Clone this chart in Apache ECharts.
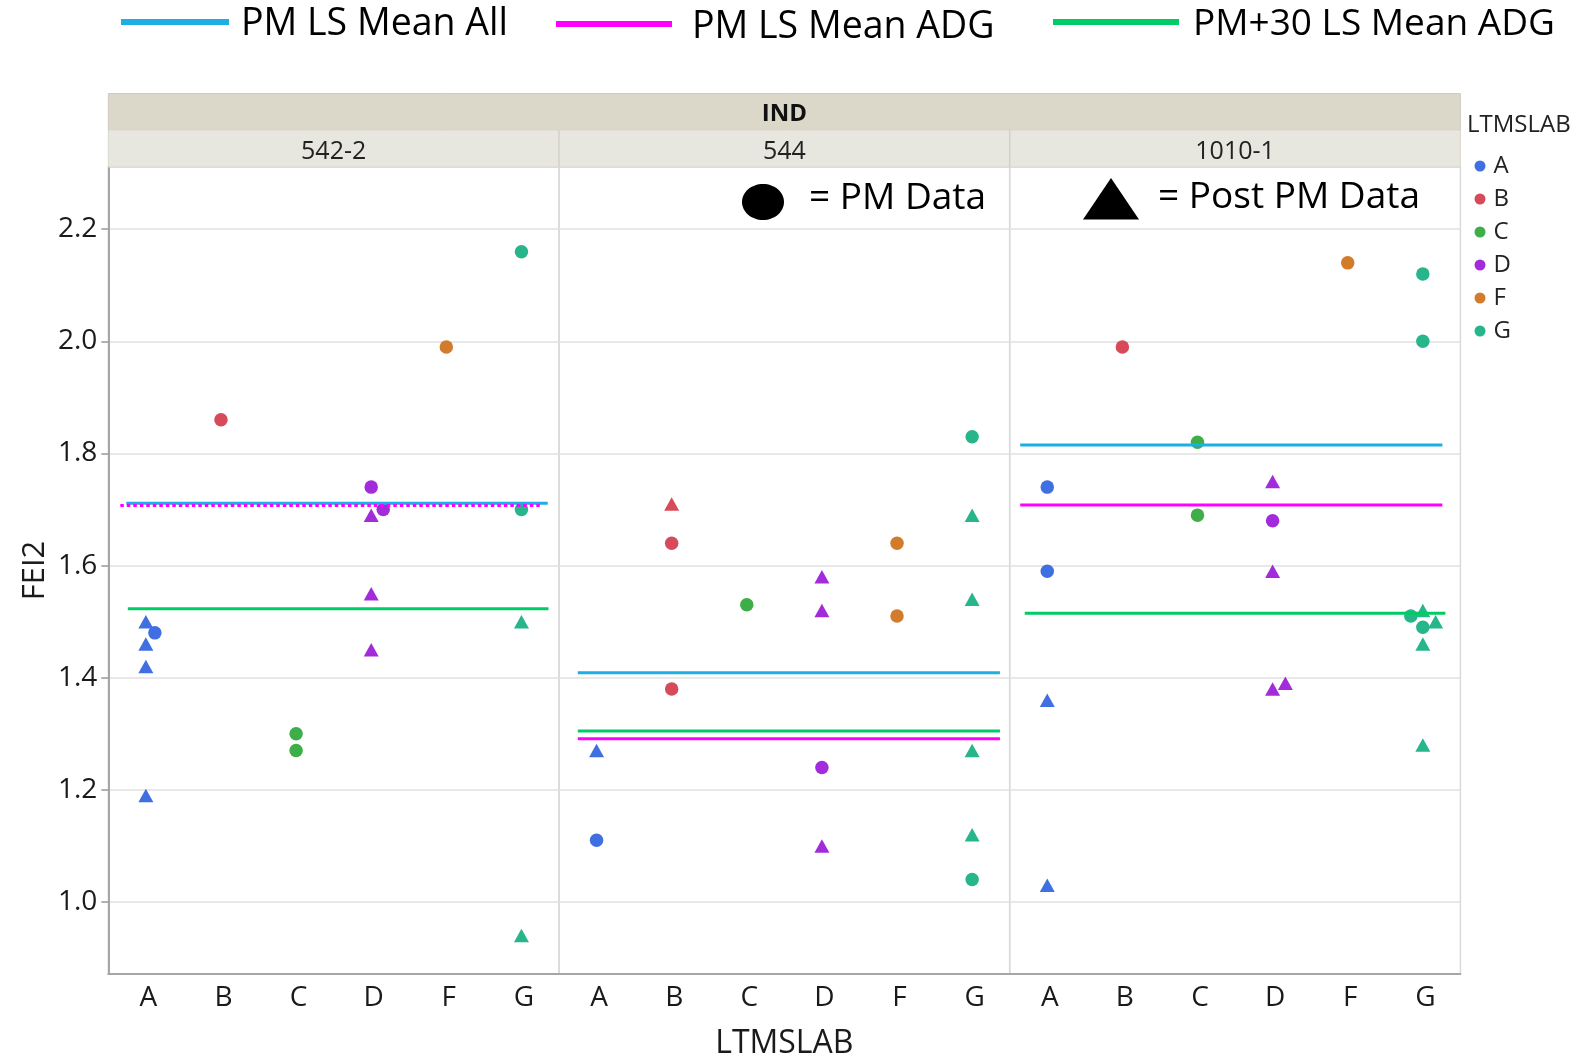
<!DOCTYPE html>
<html>
<head>
<meta charset="utf-8">
<script src="https://cdn.jsdelivr.net/npm/echarts@6/dist/echarts.min.js"></script>
<style>
  html, body { margin: 0; padding: 0; background: #fff; }
  #chart { width: 1578px; height: 1056px; }
</style>
</head>
<body>
<div id="chart"></div>
<script>
// ---------------- data ----------------
const labs = ['A', 'B', 'C', 'D', 'F', 'G'];
const panels = ['542-2', '544', '1010-1'];
const yTicks = [1.0, 1.2, 1.4, 1.6, 1.8, 2.0, 2.2];
const labColors = ['#3F6FE0', '#D64A5A', '#3DAE48', '#A22CDB', '#D27B2A', '#27B58C'];

// points: [LTMSLAB, FEI2, horizontal jitter (in category units)]
const pm_542_2 = [['A', 1.48, 0.12], ['B', 1.86, 0], ['C', 1.30, 0], ['C', 1.27, 0], ['D', 1.74, 0], ['D', 1.70, 0.16], ['F', 1.99, 0], ['G', 2.16, 0], ['G', 1.70, 0]];
const post_542_2 = [['A', 1.50, 0], ['A', 1.46, 0], ['A', 1.42, 0], ['A', 1.19, 0], ['D', 1.69, 0], ['D', 1.55, 0], ['D', 1.45, 0], ['G', 1.50, 0], ['G', 0.94, 0]];

const pm_544 = [['A', 1.11, 0], ['B', 1.64, 0], ['B', 1.38, 0], ['C', 1.53, 0], ['D', 1.24, 0], ['F', 1.64, 0], ['F', 1.51, 0], ['G', 1.83, 0], ['G', 1.04, 0]];
const post_544 = [['A', 1.27, 0], ['B', 1.71, 0], ['D', 1.58, 0], ['D', 1.52, 0], ['D', 1.10, 0], ['G', 1.69, 0], ['G', 1.54, 0], ['G', 1.27, 0], ['G', 1.12, 0]];

const pm_1010_1 = [['A', 1.74, 0], ['A', 1.59, 0], ['B', 1.99, 0], ['C', 1.82, 0], ['C', 1.69, 0], ['D', 1.68, 0], ['F', 2.14, 0], ['G', 2.12, 0], ['G', 2.00, 0], ['G', 1.51, -0.16], ['G', 1.49, 0]];
const post_1010_1 = [['A', 1.36, 0], ['A', 1.03, 0], ['D', 1.75, 0], ['D', 1.59, 0], ['D', 1.38, 0], ['D', 1.39, 0.17], ['G', 1.52, 0], ['G', 1.50, 0.17], ['G', 1.46, 0], ['G', 1.28, 0]];

const pmPanels = [pm_542_2, pm_544, pm_1010_1];
const postPanels = [post_542_2, post_544, post_1010_1];

// LS means per panel
const meanAll = [1.711, 1.409, 1.815];   // PM LS Mean All
const meanADG = [1.707, 1.291, 1.708];   // PM LS Mean ADG
const meanADG30 = [1.523, 1.305, 1.515]; // PM+30 LS Mean ADG

// ---------------- layout ----------------
const FONT = '"Open Sans", "Noto Sans", sans-serif';
const GL = 108.3, GW = 450.7, GT = 167, GH = 807;
const spanAll = [[0.24, 5.85], [0.25, 5.87], [0.14, 5.76]];
const spanADG = [[0.16, 5.78], [0.25, 5.87], [0.14, 5.76]];
const spanADG30 = [[0.26, 5.86], [0.25, 5.87], [0.20, 5.80]];
const C_ALL = '#1DAEE5', C_ADG = '#FF00FF', C_ADG30 = '#00CC66';

const grids = [], xAxes = [], yAxes = [], series = [];
panels.forEach((p, i) => {
  grids.push({
    left: GL + i * GW, top: GT, width: GW, height: GH,
    outerBoundsMode: 'none', containLabel: false,
    show: true, borderColor: '#DADADA', borderWidth: 1.5, backgroundColor: 'transparent'
  });
  xAxes.push({
    type: 'category', gridIndex: i, data: labs, boundaryGap: true,
    axisLine: { show: true, lineStyle: { color: '#A6A6A6', width: 2 } },
    axisTick: { show: false },
    axisLabel: { fontSize: 28, color: '#1a1a1a', fontFamily: FONT, margin: 10, padding: [0, 0, 0, 5] },
    splitLine: { show: false },
    name: i === 1 ? 'LTMSLAB' : '', nameLocation: 'middle', nameGap: 54,
    nameTextStyle: { fontSize: 32, color: '#1a1a1a', fontFamily: FONT }
  });
  xAxes.push({ type: 'value', gridIndex: i, min: 0, max: 6, show: false });
  yAxes.push({
    type: 'value', gridIndex: i, min: 0.8715, max: 2.311,
    axisLine: { show: i === 0, lineStyle: { color: '#A6A6A6', width: 2 } },
    axisTick: { show: i === 0, customValues: yTicks, length: 7, lineStyle: { color: '#999', width: 1.5 } },
    axisLabel: { show: i === 0, customValues: yTicks, formatter: v => v.toFixed(1), fontSize: 28, color: '#1a1a1a', fontFamily: FONT, margin: 11 },
    splitLine: { show: true, lineStyle: { color: '#E0E0E0', width: 1.5 } },
    name: i === 0 ? 'FEI2' : '', nameLocation: 'middle', nameRotate: 90, nameGap: 58,
    nameTextStyle: { fontSize: 31, color: '#1a1a1a', fontFamily: FONT }
  });

  labs.forEach((lab, li) => {
    const toPt = r => [labs.indexOf(r[0]) + 0.5 + r[2], r[1]];
    const pmPts = pmPanels[i].filter(r => r[0] === lab).map(toPt);
    const postPts = postPanels[i].filter(r => r[0] === lab).map(toPt);
    if (pmPts.length) series.push({
      type: 'scatter', name: lab, xAxisIndex: 2 * i + 1, yAxisIndex: i,
      symbol: 'circle', symbolSize: 13.5, data: pmPts, z: 2,
      itemStyle: { color: labColors[li], opacity: 1 }
    });
    if (postPts.length) series.push({
      type: 'scatter', name: lab, xAxisIndex: 2 * i + 1, yAxisIndex: i,
      symbol: 'triangle', symbolSize: [15, 13.5], data: postPts, z: 2,
      itemStyle: { color: labColors[li], opacity: 1 }
    });
  });

  const mk = (name, val, span, color, type) => ({
    type: 'line', name, xAxisIndex: 2 * i + 1, yAxisIndex: i, silent: true,
    symbol: 'none', z: 4, animation: false,
    data: [[span[0], val], [span[1], val]],
    lineStyle: { color, width: 3, type }
  });
  series.push(mk('PM LS Mean All', meanAll[i], spanAll[i], C_ALL, 'solid'));
  series.push(mk('PM+30 LS Mean ADG', meanADG30[i], spanADG30[i], C_ADG30, 'solid'));
  series.push(mk('PM LS Mean ADG', meanADG[i], spanADG[i], C_ADG, i === 0 ? [3.5, 3] : 'solid'));
});

const graphic = [
  // facet header bands
  { type: 'rect', shape: { x: GL, y: 93.5, width: 3 * GW, height: 36.5 }, style: { fill: '#DBD8C9', stroke: '#CFCCBE', lineWidth: 1 }, z: 1 },
  { type: 'rect', shape: { x: GL, y: 130, width: 3 * GW, height: 37 }, style: { fill: '#E8E7DF', stroke: '#D9D7CD', lineWidth: 1 }, z: 1 },
  { type: 'line', shape: { x1: GL + GW, y1: 130, x2: GL + GW, y2: 167 }, style: { stroke: '#D3D1C7', lineWidth: 1.5 }, z: 2 },
  { type: 'line', shape: { x1: GL + 2 * GW, y1: 130, x2: GL + 2 * GW, y2: 167 }, style: { stroke: '#D3D1C7', lineWidth: 1.5 }, z: 2 },
  { type: 'text', x: GL + 1.5 * GW, y: 114, style: { text: 'IND', font: 'bold 24px ' + FONT, fill: '#111', align: 'center', verticalAlign: 'middle' }, z: 3 },
  ...panels.map((p, i) => ({ type: 'text', x: GL + (i + 0.5) * GW, y: 151.5, style: { text: p, font: '25px ' + FONT, fill: '#222', align: 'center', verticalAlign: 'middle' }, z: 3 })),
  // right legend title
  { type: 'text', x: 1467, y: 125, style: { text: 'LTMSLAB', font: '24px ' + FONT, fill: '#222', align: 'left', verticalAlign: 'middle' } },
  // top legend for mean lines
  { type: 'line', shape: { x1: 121, y1: 22, x2: 229, y2: 22 }, style: { stroke: C_ALL, lineWidth: 6 } },
  { type: 'text', x: 241, y: 24, style: { text: 'PM LS Mean All', font: '37.5px ' + FONT, fill: '#000', align: 'left', verticalAlign: 'middle' } },
  { type: 'line', shape: { x1: 556, y1: 24, x2: 672, y2: 24 }, style: { stroke: C_ADG, lineWidth: 6 } },
  { type: 'text', x: 692, y: 27, style: { text: 'PM LS Mean ADG', font: '37.5px ' + FONT, fill: '#000', align: 'left', verticalAlign: 'middle' } },
  { type: 'line', shape: { x1: 1053, y1: 22, x2: 1179, y2: 22 }, style: { stroke: C_ADG30, lineWidth: 6 } },
  { type: 'text', x: 1193, y: 24, style: { text: 'PM+30 LS Mean ADG', font: '37px ' + FONT, fill: '#000', align: 'left', verticalAlign: 'middle' } },
  // shape annotations
  { type: 'ellipse', shape: { cx: 763, cy: 202, rx: 21, ry: 18 }, style: { fill: '#000' }, z: 10 },
  { type: 'text', x: 809, y: 198, style: { text: '= PM Data', font: '37px ' + FONT, fill: '#000', align: 'left', verticalAlign: 'middle' }, z: 10 },
  { type: 'polygon', shape: { points: [[1111, 178], [1083, 219.5], [1139, 219.5]] }, style: { fill: '#000' }, z: 10 },
  { type: 'text', x: 1158, y: 197, style: { text: '= Post PM Data', font: '37px ' + FONT, fill: '#000', align: 'left', verticalAlign: 'middle' }, z: 10 }
];

const chart = echarts.init(document.getElementById('chart'), null, { renderer: 'canvas' });
chart.setOption({
  backgroundColor: '#fff',
  animation: false,
  textStyle: { fontFamily: FONT },
  grid: grids,
  xAxis: xAxes,
  yAxis: yAxes,
  legend: {
    orient: 'vertical', left: 1469.5, top: 149,
    data: labs.map(l => ({ name: l, icon: 'circle' })),
    itemWidth: 11, itemHeight: 11, itemGap: 9,
    textStyle: { fontSize: 24, color: '#222', fontFamily: FONT, padding: [0, 0, 0, 3] },
    selectedMode: false
  },
  graphic,
  series
});
</script>
</body>
</html>
